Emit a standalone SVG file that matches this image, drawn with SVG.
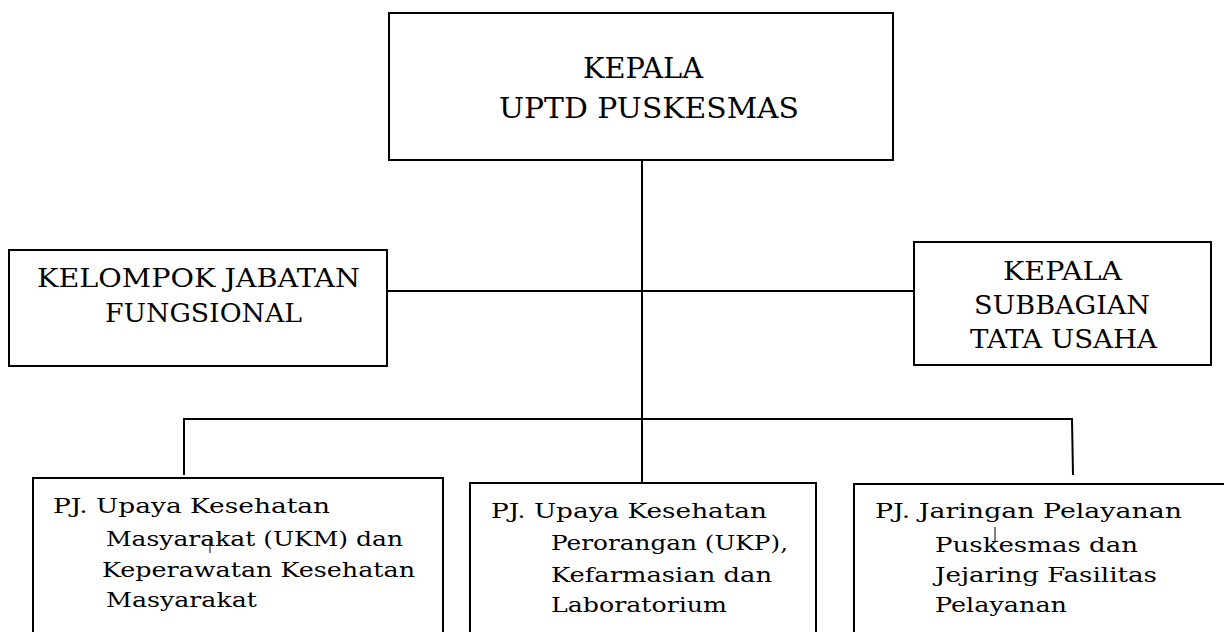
<svg xmlns="http://www.w3.org/2000/svg" width="1224" height="632" viewBox="0 0 1224 632">
<style>
.box{fill:#fff;stroke:#000;stroke-width:2}
.ln{fill:none;stroke:#000;stroke-width:2}
.mk{fill:none;stroke:#000;stroke-width:1}
text{font-family:"DejaVu Serif","Liberation Serif",serif;fill:#000}
.t1{font-size:28px}
.t2{font-size:26px}
.t3{font-size:21px}
</style>
<rect width="1224" height="632" fill="#fff"/>
<g id="connectors">
<line class="ln" x1="642" y1="160" x2="642" y2="483"/>
<line class="ln" x1="383" y1="291" x2="920" y2="291"/>
<polyline class="ln" points="184,475 184,419 1072,419 1073,475"/>
</g>
<g id="kepala">
<rect class="box" x="389" y="13" width="504" height="147"/>
<text class="t1" x="583" y="78" textLength="120" lengthAdjust="spacingAndGlyphs">KEPALA</text>
<text class="t1" x="499" y="118" textLength="300" lengthAdjust="spacingAndGlyphs">UPTD PUSKESMAS</text>
</g>
<g id="jabatan">
<rect class="box" x="9" y="250" width="378" height="116"/>
<text class="t2" x="37" y="287" textLength="323" lengthAdjust="spacingAndGlyphs">KELOMPOK JABATAN</text>
<text class="t2" x="105" y="322" textLength="197" lengthAdjust="spacingAndGlyphs">FUNGSIONAL</text>
</g>
<g id="tatausaha">
<rect class="box" x="914" y="242" width="297" height="123"/>
<text class="t2" x="1003" y="280" textLength="119" lengthAdjust="spacingAndGlyphs">KEPALA</text>
<text class="t2" x="974" y="314" textLength="176" lengthAdjust="spacingAndGlyphs">SUBBAGIAN</text>
<text class="t2" x="970" y="348" textLength="187" lengthAdjust="spacingAndGlyphs">TATA USAHA</text>
</g>
<g id="ukm">
<rect class="box" x="33" y="478" width="410" height="160"/>
<text class="t3" x="53" y="513" textLength="277" lengthAdjust="spacingAndGlyphs">PJ. Upaya Kesehatan</text>
<text class="t3" x="106" y="546" textLength="297" lengthAdjust="spacingAndGlyphs">Masyarakat (UKM) dan</text>
<text class="t3" x="102" y="577" textLength="313" lengthAdjust="spacingAndGlyphs">Keperawatan Kesehatan</text>
<text class="t3" x="106" y="607" textLength="151" lengthAdjust="spacingAndGlyphs">Masyarakat</text>
<line class="mk" x1="210" y1="539" x2="210" y2="553"/>
</g>
<g id="ukp">
<rect class="box" x="470" y="483" width="346" height="160"/>
<text class="t3" x="491" y="518" textLength="276" lengthAdjust="spacingAndGlyphs">PJ. Upaya Kesehatan</text>
<text class="t3" x="551" y="550" textLength="237" lengthAdjust="spacingAndGlyphs">Perorangan (UKP),</text>
<text class="t3" x="551" y="582" textLength="221" lengthAdjust="spacingAndGlyphs">Kefarmasian dan</text>
<text class="t3" x="551" y="612" textLength="176" lengthAdjust="spacingAndGlyphs">Laboratorium</text>
</g>
<g id="jaringan">
<rect class="box" x="854" y="484" width="380" height="160"/>
<text class="t3" x="875" y="518" textLength="307" lengthAdjust="spacingAndGlyphs">PJ. Jaringan Pelayanan</text>
<text class="t3" x="935" y="552" textLength="203" lengthAdjust="spacingAndGlyphs">Puskesmas dan</text>
<text class="t3" x="935" y="582" textLength="222" lengthAdjust="spacingAndGlyphs">Jejaring Fasilitas</text>
<text class="t3" x="935" y="612" textLength="132" lengthAdjust="spacingAndGlyphs">Pelayanan</text>
<line class="mk" x1="995" y1="527" x2="995" y2="542"/>
</g>
</svg>
